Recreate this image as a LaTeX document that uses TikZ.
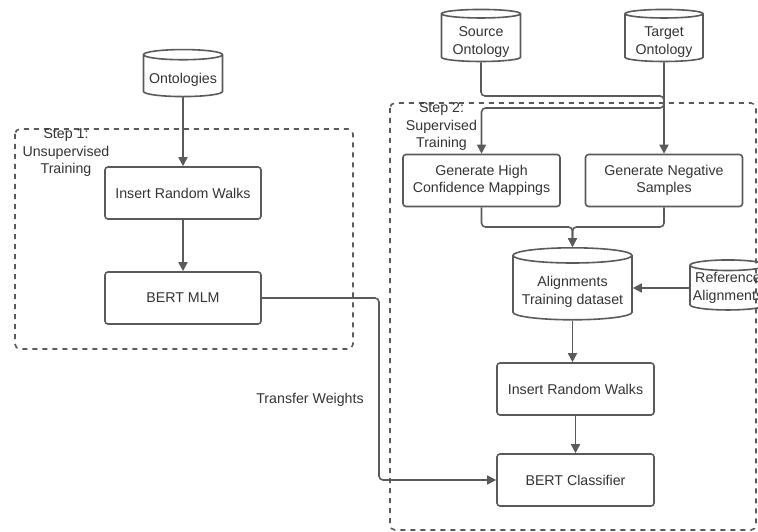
\documentclass[tikz,border=0pt]{standalone}
\usepackage{fontspec}
\setmainfont{Liberation Sans}
\usetikzlibrary{shapes.geometric,arrows.meta}
\definecolor{linegray}{HTML}{5A5A5A}
\definecolor{textgray}{HTML}{333333}
\newcommand{\lowtext}{\rule{0pt}{18pt}}% pushes cylinder text below the top ellipse
\tikzset{
  every node/.style={text=textgray,font=\fontsize{14.2}{17.5}\selectfont},
  procbox/.style={draw=linegray,line width=1.6pt,rounded corners=3pt,minimum width=156pt,minimum height=52pt,align=center},
  dbase/.style={draw=linegray,line width=1.6pt,cylinder,shape border rotate=90,aspect=0.15,align=center,inner sep=0pt},
  flow/.style={draw=linegray,line width=1.6pt,rounded corners=4pt,-{Triangle[length=9pt,width=9pt]}},
  stepframe/.style={draw=linegray,line width=1.6pt,dash pattern=on 5pt off 5pt,rounded corners=5pt}
}
\begin{document}
\begin{tikzpicture}[x=1pt,y=-1pt]
          \useasboundingbox (0,0) rectangle (758,532);
          % the two training steps
          \draw[stepframe] (15,129) rectangle (353,349);
          \draw[stepframe] (390,103) rectangle (756,530);
          \node[align=center] (step1) at (66,153) {Step 1:\\Unsupervised\\Training};
          \node[align=center] (step2) at (441.5,127) {Step 2:\\Supervised\\Training};
          % step 1
          \node[dbase,minimum width=79pt,minimum height=47pt] (onto) at (183,76) {\lowtext Ontologies};
          \node[procbox] (walks1) at (183,193) {Insert Random Walks};
          \node[procbox] (mlm) at (183,298) {BERT MLM};
          % step 2
          \node[dbase,minimum width=79pt,minimum height=50pt] (src) at (481,38) {\lowtext Source\\Ontology};
          \node[dbase,minimum width=78pt,minimum height=50pt] (tgt) at (664,38) {\lowtext Target\\Ontology};
          \node[procbox,minimum width=157pt] (mapping) at (481.5,180.5) {Generate High\\Confidence Mappings};
          \node[procbox,minimum width=157pt] (negative) at (664,180.5) {Generate Negative\\Samples};
          \node[dbase,minimum width=119pt,minimum height=72pt] (train) at (572.5,288) {\lowtext Alignments\\Training dataset};
          \node[dbase,minimum width=76pt,minimum height=50pt] (ref) at (728,288) {Reference\\Alignments};
          \node[procbox,minimum width=157pt] (walks2) at (575.5,389) {Insert Random Walks};
          \node[procbox,minimum width=157pt] (classifier) at (575.5,480) {BERT Classifier};
          \node (transfer) at (310,400) {Transfer Weights};
          \coordinate (srcturn) at (481,96);
          \coordinate (tgtturn) at (664,108);
          \coordinate (merge) at (572.5,227);
          \coordinate (weights) at (379,298);
          \draw[flow] (onto) -- (walks1);
          \draw[flow] (walks1) -- (mlm);
          \draw[flow] (src) -- (srcturn) -| (negative);
          \draw[flow] (tgt) -- (tgtturn) -| (mapping);
          \draw[flow] (mapping.south) |- (merge) -- (train.north);
          \draw[flow] (negative.south) |- (merge) -- (train.north);
          \draw[flow] (ref) -- (train);
          \draw[flow] (train.south) -- (train.south |- walks2.north);
          \draw[flow] (walks2) -- (classifier);
          \draw[flow] (mlm.east) -- (weights) |- (classifier.west); % weights go over to step 2
        \end{tikzpicture}
\end{document}
